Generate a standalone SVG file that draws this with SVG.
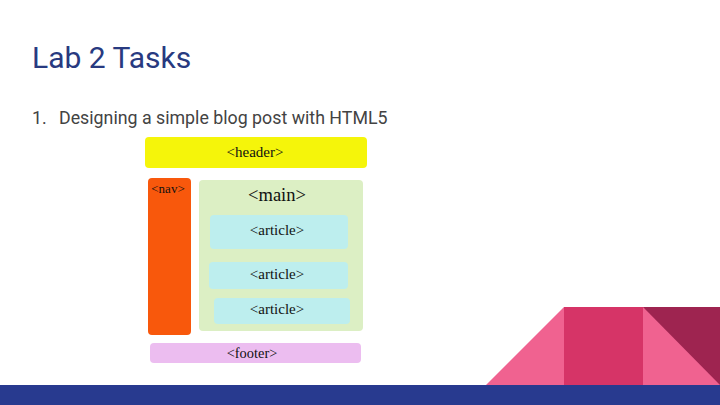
<svg xmlns="http://www.w3.org/2000/svg" width="720" height="405" viewBox="0 0 720 405">
<style>
.t{font-family:"Liberation Serif","Times New Roman",serif;fill:#111;text-anchor:middle}
</style>
<rect width="720" height="405" fill="#ffffff"/>
<text x="32" y="68" font-family="Roboto,'Liberation Sans',sans-serif" font-size="30" fill="#283a80">Lab 2 Tasks</text>
<text font-family="Roboto,'Liberation Sans',sans-serif" font-size="17.8" fill="#434343" y="124"><tspan x="32">1.</tspan><tspan x="59">Designing a simple blog post with HTML5</tspan></text>
<g id="header"><rect x="145" y="137" width="222" height="31" rx="4" fill="#f5f50a"/><text class="t" x="255" y="157" font-size="15">&lt;header&gt;</text></g>
<g id="nav"><rect x="148" y="178" width="43" height="157" rx="4" fill="#f8580c"/><text class="t" x="168" y="193" font-size="13">&lt;nav&gt;</text></g>
<g id="main"><rect x="199" y="180" width="164" height="151" rx="4" fill="#dcefc4"/><text class="t" x="277" y="201" font-size="18.5">&lt;main&gt;</text></g>
<g id="article1"><rect x="210" y="215" width="138" height="34" rx="4" fill="#bdeeee"/><text class="t" x="277" y="235" font-size="15">&lt;article&gt;</text></g>
<g id="article2"><rect x="209" y="262" width="139" height="27" rx="4" fill="#bdeeee"/><text class="t" x="277" y="279" font-size="15">&lt;article&gt;</text></g>
<g id="article3"><rect x="214" y="298" width="136" height="26" rx="4" fill="#bdeeee"/><text class="t" x="277" y="314" font-size="15">&lt;article&gt;</text></g>
<g id="footer"><rect x="150" y="343" width="211" height="20" rx="4" fill="#ecbdf0"/><text class="t" x="252" y="358" font-size="14.4">&lt;footer&gt;</text></g>
<g id="connectors"></g>
<polygon points="486,385 564,307 564,385" fill="#f06290"/>
<rect x="564" y="307" width="79" height="78" fill="#d63467"/>
<polygon points="643,307 720,307 720,385 643,385" fill="#f06290"/>
<polygon points="643,307 720,307 720,385" fill="#9e2450"/>
<rect x="0" y="385" width="720" height="20" fill="#283a8f"/>
</svg>
